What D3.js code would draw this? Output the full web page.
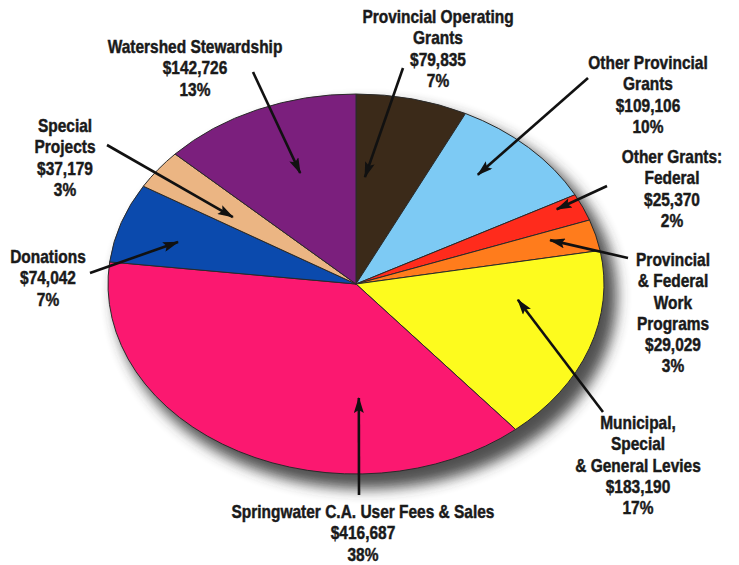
<!DOCTYPE html>
<html>
<head>
<meta charset="utf-8">
<script src="https://cdn.jsdelivr.net/npm/d3@7"></script>
<style>
  body { margin: 0; background: #fff; }
  text { font-family: "Liberation Sans", Arial, sans-serif; font-weight: bold; font-size: 18px; fill: #1a1a1a; stroke: #1a1a1a; stroke-width: 0.45px; }
</style>
</head>
<body>
<div id="chart"></div>
<script>
// revenue sources, clockwise from 12 o'clock
var categories = ["Provincial Operating\nGrants", "Other Provincial\nGrants", "Other Grants:\nFederal",
    "Provincial\n& Federal\nWork\nPrograms", "Municipal,\nSpecial\n& General Levies",
    "Springwater C.A. User Fees & Sales", "Donations", "Special\nProjects", "Watershed Stewardship"],
    amounts = [79835, 109106, 25370, 29029, 183190, 416687, 74042, 37179, 142726],
    colors = ["#3b2a19", "#7dcaf4", "#ff2b1c", "#ff7c1c", "#fdfb1e", "#fb1870", "#0b4aad", "#ebb583", "#7b1f7d"];

// label placement: centre x, first line y, arrow tail, arrow tip (share of slice angle, share of radius)
var labelX = [438, 648, 672, 673, 638, 363, 48, 65, 195],
    labelY = [17, 63, 157, 260, 423, 512, 257, 126, 47],
    tailX = [403, 588, 607, 628, 603, 359, 90, 107, 253],
    tailY = [68, 78, 186, 258, 412, 495, 273, 145, 72],
    tipT = [0.14, 0.40, 0.25, 0.34, 0.29, 0.285, 0.43, 0.36, 0.55],
    tipR = [0.564, 0.756, 0.9, 0.816, 0.658, 0.6, 0.751, 0.609, 0.626];

var width = 739, height = 565,
    cx = 356, cy = 284, rx = 248, ry = 190,
    lineH = 21.3,
    squeeze = 0.86;

var total = d3.sum(amounts),
    money = d3.format("$,"),
    pct = v => Math.round(v / total * 100) + "%";

var svg = d3.select("#chart").append("svg")
    .attr("width", width)
    .attr("height", height);

var defs = svg.append("defs");
defs.append("filter").attr("id", "blur")
    .attr("x", "-20%").attr("y", "-20%").attr("width", "140%").attr("height", "140%")
    .append("feGaussianBlur").attr("stdDeviation", 7);

defs.append("marker")
    .attr("id", "head")
    .attr("markerUnits", "userSpaceOnUse")
    .attr("viewBox", "0 -5 16 10")
    .attr("refX", 15).attr("refY", 0)
    .attr("markerWidth", 17).attr("markerHeight", 10)
    .attr("orient", "auto")
    .append("path")
    .attr("d", "M0,-5L16,0L0,5L3,0Z")
    .attr("fill", "#111");

// soft shadow under the pie
svg.append("ellipse")
    .attr("cx", cx + 10).attr("cy", cy + 12)
    .attr("rx", rx + 3).attr("ry", ry + 3)
    .attr("fill", "#333")
    .attr("opacity", 0.85)
    .attr("filter", "url(#blur)");

var pie = d3.pie().sort(null).value(d => d)(amounts);

var arc = d3.arc().innerRadius(0).outerRadius(rx);

svg.append("g")
    .attr("transform", "translate(" + cx + "," + cy + ") scale(1," + (ry / rx) + ")")
    .selectAll("path")
    .data(pie)
    .enter().append("path")
    .attr("d", arc)
    .attr("fill", (d, i) => colors[i])
    .attr("stroke", "#2a2a2a")
    .attr("stroke-width", 1)
    .attr("vector-effect", "non-scaling-stroke");

// arrows
svg.append("g").selectAll("line")
    .data(pie)
    .enter().append("line")
    .attr("x1", (d, i) => tailX[i])
    .attr("y1", (d, i) => tailY[i])
    .attr("x2", (d, i) => {
        var a = d.startAngle + (d.endAngle - d.startAngle) * tipT[i];
        return cx + rx * tipR[i] * Math.sin(a);
    })
    .attr("y2", (d, i) => {
        var a = d.startAngle + (d.endAngle - d.startAngle) * tipT[i];
        return cy - ry * tipR[i] * Math.cos(a);
    })
    .attr("stroke", "#111")
    .attr("stroke-width", 2.6)
    .attr("marker-end", "url(#head)");

// labels (condensed by a horizontal squeeze)
var labels = svg.append("g").selectAll("text")
    .data(pie)
    .enter().append("text")
    .attr("text-anchor", "middle")
    .attr("transform", (d, i) => "translate(" + labelX[i] + ",0) scale(" + squeeze + ",1)")
    .attr("y", (d, i) => labelY[i] + 6);

labels.each(function(d, i) {
    var lines = categories[i].split("\n").concat([money(amounts[i]), pct(amounts[i])]);
    d3.select(this).selectAll("tspan")
        .data(lines)
        .enter().append("tspan")
        .attr("x", 0)
        .attr("dy", (l, j) => j ? lineH : 0)
        .text(l => l);
});
</script>
</body>
</html>
